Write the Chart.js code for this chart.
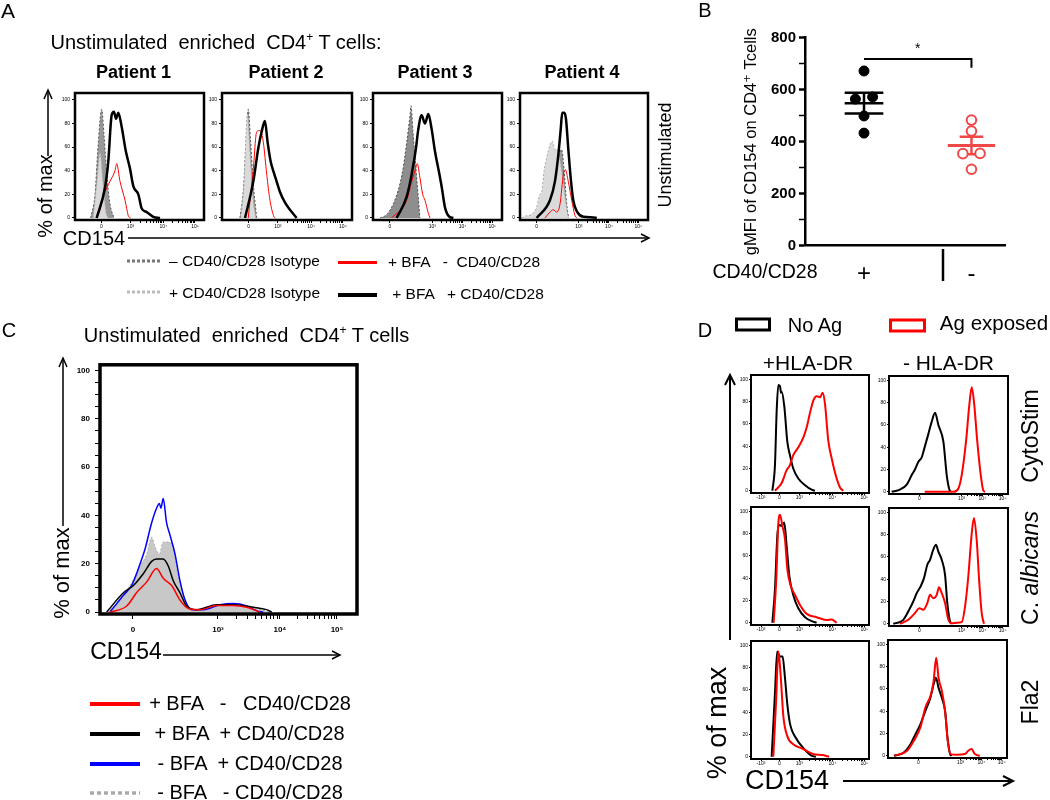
<!DOCTYPE html>
<html>
<head>
<meta charset="utf-8">
<script src="https://cdn.jsdelivr.net/npm/chart.js@4.4.1/dist/chart.umd.min.js"></script>
<style>
  body { margin: 0; background: #fff; }
  #fig { position: relative; width: 1050px; height: 800px; overflow: hidden;
         font-family: "Liberation Sans", Arial, "DejaVu Sans", sans-serif; color: #000; }
  canvas { position: absolute; z-index: 1; }
  .lbl { position: absolute; white-space: pre; line-height: 1; z-index: 3; }
  .lbl sup { font-size: 60%; line-height: 0; vertical-align: 0.7em; }
  #deco { position: absolute; left: 0; top: 0; z-index: 2; }
</style>
</head>
<body>
<div id="fig">
  <canvas id="a1"></canvas><canvas id="a2"></canvas><canvas id="a3"></canvas><canvas id="a4"></canvas>
  <canvas id="b"></canvas>
  <canvas id="c"></canvas>
  <canvas id="d1"></canvas><canvas id="d2"></canvas><canvas id="d3"></canvas>
  <canvas id="d4"></canvas><canvas id="d5"></canvas><canvas id="d6"></canvas>

  <svg id="deco" width="1050" height="800">
    <g stroke="#000" fill="none" stroke-width="1.5">
      <!-- A: axis arrows -->
      <line x1="48" y1="156" x2="48" y2="91"/><polyline points="44,99 48,90 52,99"/>
      <line x1="128" y1="238" x2="649" y2="238"/><polyline points="641,234 649,238 641,242"/>
      <!-- C: axis arrows -->
      <line x1="63" y1="526" x2="63" y2="359"/><polyline points="59,367 63,358 67,367"/>
      <line x1="163" y1="655" x2="340" y2="655"/><polyline points="332,651 340,655 332,659"/>
    </g>
    <g stroke="#000" fill="none" stroke-width="2">
      <!-- D: axis arrows -->
      <line x1="730" y1="640" x2="730" y2="376"/><polyline points="725,385 730,375 735,385"/>
      <line x1="843" y1="781" x2="1012" y2="781"/><polyline points="1003,776 1013,781 1003,786"/>
      <!-- B: separator -->
      <line x1="943" y1="249" x2="943" y2="281" stroke-width="2.5"/>
    </g>
    <!-- A legend swatches -->
    <line x1="127" y1="261" x2="162" y2="261" stroke="#777" stroke-width="3" stroke-dasharray="3 2"/>
    <line x1="127" y1="292" x2="162" y2="292" stroke="#bbb" stroke-width="3" stroke-dasharray="3 2"/>
    <line x1="338" y1="262.5" x2="377" y2="262.5" stroke="#ff0000" stroke-width="3"/>
    <line x1="338" y1="295" x2="377" y2="295" stroke="#000" stroke-width="4"/>
    <!-- C legend swatches -->
    <line x1="90" y1="704" x2="140" y2="704" stroke="#ff0000" stroke-width="4"/>
    <line x1="90" y1="734" x2="140" y2="734" stroke="#000" stroke-width="4"/>
    <line x1="90" y1="764" x2="140" y2="764" stroke="#0000ff" stroke-width="4"/>
    <line x1="90" y1="793" x2="140" y2="793" stroke="#aaa" stroke-width="3.5" stroke-dasharray="4 3"/>
    <!-- D legend boxes -->
    <rect x="736.5" y="319" width="33" height="11" fill="none" stroke="#000" stroke-width="3"/>
    <rect x="890.5" y="320" width="34" height="11" fill="none" stroke="#ff0000" stroke-width="3"/>
  </svg>
</div>

<script>
// ---- Panel A: histograms per patient, [x % of plot width, y % of max] ----
const p1Dark  = [[12.2,0],[15.5,20],[17.8,60],[20.7,92],[22.5,70],[24.8,35],[27.1,12],[30.2,0]];
const p1Light = [[14,0],[17,30],[19.4,55],[21.7,30],[24,5],[25.6,0]];
const p1Red   = [[16.8,0],[19.4,7],[21.9,18],[24.8,26],[27.1,31],[31,40],[32.3,46],[34.9,31],[38.8,15],[41.3,2],[43,0]];
const p1Black = [[16.8,0],[23.3,26],[25.8,48],[28.4,87],[30.2,90],[31.8,84],[33.6,89],[36.2,77],[39.5,56],[42.6,42],[45.2,27],[49.1,20],[51.7,8],[55.6,5],[60.7,1],[65.9,0]];

const p2Dark  = [[13.8,0],[16.5,25],[18.5,65],[20.2,92],[22,65],[24,30],[26.7,0]];
const p2Light = [[14.5,0],[17,30],[19.5,88],[21.5,55],[24,15],[26,0]];
const p2Red   = [[20.2,0],[24.1,42],[26.7,73],[29.2,74],[31.8,64],[34.4,37],[36.9,15],[40,1],[41,0]];
const p2Black = [[17.7,0],[24.1,31],[27.9,59],[30.5,73],[33,82],[35.1,64],[37.4,48],[40,38],[42,31],[44.6,22],[48.5,13],[52.3,7],[57.4,0]];

const p3Dark  = [[5.4,0],[11.6,4],[19.4,23],[23.3,42],[26.1,64],[28.7,87],[29.5,95],[31,73],[34.1,31],[36.4,0]];
const p3Light = [[7,0],[12,3],[19.4,20],[23.3,38],[26.1,60],[28.7,82],[29.5,88],[31,68],[34,28],[36,0]];
const p3Red   = [[14.5,0],[26.1,15],[30,31],[32.6,40],[34.3,46],[36.4,34],[38.5,20],[40.3,15],[42.9,4],[44.2,0]];
const p3Black = [[18.3,0],[26.1,18],[30,37],[33.3,59],[35.1,75],[37.7,87],[40.3,80],[42.9,88],[45.5,75],[48.1,56],[50.6,42],[53.3,26],[55.8,9],[59.2,1],[62.3,0]];

const p4Dark  = [[19,0],[24,15],[28,38],[31,55],[32.5,58],[34.5,40],[36.5,12],[38,0]];
const p4Light = [[1.3,0],[5.2,2],[9.1,3],[13,9],[15.6,20],[17,22],[18.8,40],[20.8,51],[23.4,62],[25.3,65],[27.3,58],[29.1,58],[31.3,48],[33.9,29],[35.9,12],[37.7,0]];
const p4Red   = [[19.5,0],[23.4,5],[26,7],[28.6,5],[31.3,12],[33.9,37],[35.4,41],[37.7,31],[40.4,15],[43,2],[44.8,0]];
const p4Black = [[13,0],[23.4,15],[27.3,31],[29.9,53],[31.8,75],[33,89],[34.6,89],[35.9,84],[37.7,59],[39.6,34],[41.6,15],[44.8,5],[49.5,1],[57.3,0.5],[60,0]];

// ---- Panel B: gMFI values ----
const bGroups = ['+', '-'];
const bPlus = [672, 564, 572, 499, 433];
const bPlusJitter = [0, -1, 1, 0, 0];
const bMinus = [483, 441, 354, 355, 294];
const bMinusJitter = [0, 0, -1, 1, 0];
const bBracket = [718, 684];
const bStarY = 755;

// ---- Panel C ----
const cGray  = [[2.6,0],[7.8,5],[11.7,11],[15.6,19],[18.2,24],[20.1,31],[21.4,27],[23.1,24],[24.6,29],[26.6,29],[28.5,27],[30.4,15],[32.4,7],[34.4,2],[37.6,1],[44,2.5],[49.3,3],[54.5,2.5],[62.3,1],[66.1,0]];
const cBlue  = [[3.9,0],[9.1,7],[12.3,11],[15.6,20],[17.5,26],[20.1,37],[22,43],[23.1,45],[23.7,43],[24.6,47],[25.9,37],[27.2,32],[29.2,24],[31.1,13],[33.1,5],[35.7,1],[40.2,1],[46.7,3],[51.9,3.5],[57.1,2.5],[61,0.5],[63.5,0]];
const cBlack = [[2.6,0],[9.1,8],[13,11],[16.9,16],[20.1,21],[22,22],[24.6,22],[26.6,19],[28.5,13],[31.1,8],[33.7,2.5],[37.6,1],[45.4,3],[51.9,3],[59.7,2],[64.8,1],[66.8,0]];
const cRed   = [[3.9,0],[10.4,2.5],[14.2,8],[18.2,12.5],[22,18],[24.6,14],[27.9,11],[31.1,5],[34.4,1.5],[38.9,1],[45.4,2.7],[51.9,2.7],[57.1,2],[61,0.5],[62,0]];

// ---- Panel D: rows CytoStim / C. albicans / Fla2, columns +HLA-DR / -HLA-DR ----
const d1LBlack = [[18.1,0],[20.3,23],[21.8,73],[23.2,95],[24.6,94],[25.4,88],[26,89],[28.2,76],[30.8,44],[33,32],[35.8,20],[40.1,11],[45.8,5],[51.4,1],[54.2,0]];
const d1LRed   = [[20.3,0],[26,7],[30.2,18.5],[33,23],[35.8,32],[40.1,39],[44.4,48],[47.2,57],[50,70],[52.8,81],[55.6,85],[58.5,84],[60.7,88],[62.7,78],[65.5,45],[68.4,29],[72.6,11],[75.4,3],[78.2,0]];
const d1RBlack = [[2.2,0],[9.2,2],[14.9,6.5],[19.1,15],[21.8,20],[24.7,27],[27.5,31],[29.7,39],[33.1,52],[35.9,63],[38.7,71],[41.5,60],[45.7,45],[48.5,15],[50.7,2],[51.8,0]];
const d1RRed   = [[30,0],[54.1,0],[58.3,3],[61.1,15],[64.7,45],[67.5,78],[69.5,94],[71.4,81],[74.2,45],[77.1,15],[79.3,1],[80.7,0]];
const d2LBlack = [[18.1,0],[20.3,30],[22.3,78],[23.7,88],[26,87],[28.2,90],[30.2,69],[32.5,42],[35.8,25],[40.1,13],[45.8,5],[51.4,1.5],[55.6,0]];
const d2LRed   = [[19.2,0],[21.4,39],[23.2,90],[24.6,97],[26.6,87],[28.8,75],[30.8,48],[33.6,33.5],[37.3,25],[41.5,16],[47.2,8],[55.6,5],[64,2.5],[68.4,3],[72.6,0]];
const d2RBlack = [[3.6,0],[12,3.5],[17.6,14],[20.4,20],[23.3,27.5],[26.6,33.6],[29.4,41],[32.2,53],[34.5,57.5],[37.2,66.5],[39.5,71],[41.4,65],[44.3,57.5],[47.1,44],[49,18.6],[51.3,2],[52.7,0]];
const d2RRed   = [[9.2,0],[16.2,3.6],[21.8,9.6],[25.5,14],[28.8,12.6],[32.2,18.6],[34.5,26],[37.2,23],[40.1,26],[42,32.7],[44.3,27.6],[47.1,18.6],[49.9,3.6],[52.7,0.5],[56.9,1],[61.1,1.5],[63.9,15.5],[66.6,42],[69.5,81],[71.4,95],[73.7,75],[75.9,36.5],[77.9,9.6],[79.8,0]];
const d3LBlack = [[17.5,0],[20.3,57],[22.2,94.6],[24.5,90],[26.8,90],[28.7,72],[30.7,48],[33,30],[38.6,16],[44.2,8],[51.2,1],[55,0]];
const d3LRed   = [[18.9,0],[21.2,48.6],[23.2,94.6],[25.2,72],[27.4,36.6],[30.7,18.8],[35.8,11.3],[44.2,7],[52.6,2.5],[61,1.5],[66.2,0]];
const d3RBlack = [[5,0],[13.3,3],[18.9,10.4],[23.1,19.4],[27.2,28.3],[31.4,40.3],[35.6,52],[38.3,64],[40.3,70],[42.5,61],[45.3,52],[48,40],[50,16.4],[52.2,1.5],[53.6,0]];
const d3RRed   = [[5.4,0],[16.1,4.5],[21.7,13.4],[27.2,25.4],[31.4,43.3],[36.1,55],[38.3,67],[40.5,88],[42.5,70],[45.3,58],[48,40],[50.2,13.4],[52.7,1.5],[57.7,1],[64.6,1.5],[67.4,4.5],[70.2,6],[73,1.5],[77.2,0]];

// ---- tick labels (logicle axis positions in % of plot width) ----
const yTickVals = [0, 20, 40, 60, 80, 100];
const aTicks12 = { pos: [20.5, 43, 68.5, 93], lab: ['0', '10³', '10⁴', '10⁵'] };
const aTicks34 = { pos: [13, 46, 69.5, 92.5], lab: ['0', '10³', '10⁴', '10⁵'] };
const cTicks   = { pos: [12.8, 45.9, 70, 92.2], lab: ['0', '10³', '10⁴', '10⁵'] };
const dTicksL  = { pos: [8.5, 24, 41, 69, 96], lab: ['-10³', '0', '10³', '10⁴', '10⁵'] };
const dTicksR  = { pos: [25.5, 61, 78.4, 95.5], lab: ['0', '10³', '10⁴', '10⁵'] };

Chart.defaults.font.family = '"Liberation Sans", Arial, "DejaVu Sans", sans-serif';
Chart.defaults.color = '#000';

// frame around the plot area
Chart.register({
  id: 'frame',
  afterDatasetsDraw(chart, args, opts) {
    if (!opts.width) return;
    const a = chart.chartArea, ctx = chart.ctx;
    ctx.save();
    ctx.lineWidth = opts.width;
    ctx.strokeStyle = '#000';
    ctx.strokeRect(a.left, a.top, a.right - a.left, a.bottom - a.top);
    ctx.restore();
  }
});

// major ticks + log minor ticks between decades
function buildTicks(t) {
  const ticks = t.pos.map((v, i) => ({ value: v, label: t.lab[i] }));
  for (let i = 0; i < t.pos.length - 1; i++) {
    if (t.lab[i].startsWith('10') && t.lab[i + 1].startsWith('10')) {
      for (let m = 2; m < 10; m++) {
        ticks.push({ value: t.pos[i] + (t.pos[i + 1] - t.pos[i]) * Math.log10(m), label: '' });
      }
    }
  }
  return ticks;
}

function histogram(id, box, cfg, xt, curves) {
  const [bx, by, bw, bh] = box;
  const cv = document.getElementById(id);
  const W = bw + cfg.yw + 3, H = bh + 2 + cfg.xh;
  cv.width = W; cv.height = H;
  cv.style.width = W + 'px'; cv.style.height = H + 'px';
  cv.style.left = (bx - cfg.yw) + 'px';
  cv.style.top = (by - 2) + 'px';

  const xticks = buildTicks(xt);
  let yticks = yTickVals.slice();
  if (cfg.yMinor) for (let v = 5; v < 100; v += 5) if (v % 20) yticks.push(v);

  new Chart(cv, {
    type: 'line',
    data: {
      datasets: curves.map(c => ({
        data: c.pts.map(p => ({ x: p[0], y: p[1] })),
        borderColor: c.color,
        borderWidth: c.lw,
        borderDash: c.dash || [],
        fill: c.fill ? 'origin' : false,
        backgroundColor: c.fill || 'transparent',
        pointRadius: 0,
        cubicInterpolationMode: 'monotone',
        order: c.order
      }))
    },
    options: {
      responsive: false,
      animation: false,
      devicePixelRatio: 1,
      layout: { padding: { top: 2, right: 3, left: 0, bottom: 0 } },
      plugins: { legend: { display: false }, tooltip: { enabled: false }, frame: { width: cfg.frame } },
      scales: {
        x: {
          type: 'linear', min: 0, max: 100,
          afterBuildTicks: s => { s.ticks = xticks.map(t => ({ value: t.value })); },
          afterFit: s => { s.height = cfg.xh; },
          ticks: {
            autoSkip: false, maxRotation: 0, padding: cfg.xPad,
            font: { size: cfg.tf, weight: cfg.tw },
            callback: (v, i) => xticks[i].label
          },
          grid: { drawOnChartArea: false, tickLength: cfg.tl, color: '#000' },
          border: { display: false }
        },
        y: {
          type: 'linear', min: cfg.yMin, max: cfg.yMax,
          afterBuildTicks: s => { s.ticks = yticks.map(v => ({ value: v })); },
          afterFit: s => { s.width = cfg.yw; },
          ticks: {
            autoSkip: false, padding: cfg.yPad,
            font: { size: cfg.tf, weight: cfg.tw },
            callback: v => (v % 20 === 0 ? String(v) : '')
          },
          grid: { drawOnChartArea: false, tickLength: cfg.tl, color: '#000' },
          border: { display: false }
        }
      }
    }
  });
}

// ---- Panel A ----
const aCfg = { yw: 16, xh: 12, tf: 5, tw: 'normal', tl: 3, yPad: 2, xPad: 1, yMin: -1.7, yMax: 105.8, frame: 2.5 };
function patient(black, red, light, dark, lightUnder) {
  return [
    { pts: black, color: '#000', lw: 2.5, order: 0 },
    { pts: red, color: '#ff0000', lw: 1, order: 1 },
    { pts: light, color: '#aaa', lw: 1, dash: [2, 2], fill: 'rgb(218,218,218)', order: lightUnder ? 4 : 2 },
    { pts: dark, color: '#555', lw: 1, dash: [2, 2], fill: 'rgba(110,110,110,0.7)', order: 3 }
  ];
}
histogram('a1', [75, 90, 129, 130], aCfg, aTicks12, patient(p1Black, p1Red, p1Light, p1Dark, false));
histogram('a2', [222, 90, 130, 130], aCfg, aTicks12, patient(p2Black, p2Red, p2Light, p2Dark, false));
histogram('a3', [373, 90, 129, 130], aCfg, aTicks34, patient(p3Black, p3Red, p3Light, p3Dark, true));
histogram('a4', [520, 90, 128, 130], aCfg, aTicks34, patient(p4Black, p4Red, p4Light, p4Dark, false));

// ---- Panel C ----
const cCfg = { yw: 30, xh: 24, tf: 8, tw: 'bold', tl: 5, yPad: 5, xPad: 6, yMin: -0.8, yMax: 102.4, frame: 3.5, yMinor: true };
histogram('c', [100, 357, 257, 257], cCfg, cTicks, [
  { pts: cRed, color: '#ff0000', lw: 1.5, order: 0 },
  { pts: cBlack, color: '#000', lw: 1.5, order: 1 },
  { pts: cBlue, color: '#0000ff', lw: 1.5, order: 2 },
  { pts: cGray, color: '#aaa', lw: 1, dash: [2, 2], fill: 'rgb(200,200,200)', order: 4 }
]);

// ---- Panel D ----
const dCfg = { yw: 14, xh: 10, tf: 5, tw: 'normal', tl: 2, yPad: 1, xPad: 0, yMin: -2, yMax: 104, frame: 2 };
function pair(black, red) {
  return [
    { pts: red, color: '#ff0000', lw: 2, order: 0 },
    { pts: black, color: '#000', lw: 2, order: 1 }
  ];
}
histogram('d1', [751, 373, 118, 120], dCfg, dTicksL, pair(d1LBlack, d1LRed));
histogram('d2', [889, 374, 119, 120], dCfg, dTicksR, pair(d1RBlack, d1RRed));
histogram('d3', [751, 505, 118, 120], dCfg, dTicksL, pair(d2LBlack, d2LRed));
histogram('d4', [889, 506, 119, 120], dCfg, dTicksR, pair(d2RBlack, d2RRed));
histogram('d5', [751, 639, 118, 120], dCfg, dTicksL, pair(d3LBlack, d3LRed));
histogram('d6', [888, 638, 119, 120], dCfg, dTicksR, pair(d3RBlack, d3RRed));

// ---- Panel B ----
function meanSem(a) {
  const m = a.reduce((s, v) => s + v, 0) / a.length;
  const sd = Math.sqrt(a.reduce((s, v) => s + (v - m) ** 2, 0) / (a.length - 1));
  return [m, sd / Math.sqrt(a.length)];
}
function seg(pts, color, w) {
  return { data: pts.map(p => ({ x: p[0], y: p[1] })), showLine: true, borderColor: color,
           borderWidth: w, pointRadius: 0, order: 2 };
}
const bRed = '#f04848';
const [mP, sP] = meanSem(bPlus);
const [mM, sM] = meanSem(bMinus);
const jit = 0.08;
const bCanvas = document.getElementById('b');
bCanvas.width = 290; bCanvas.height = 275;
Object.assign(bCanvas.style, { left: '730px', top: '20px', width: '290px', height: '275px' });

new Chart(bCanvas, {
  type: 'scatter',
  data: {
    datasets: [
      { data: bPlus.map((v, i) => ({ x: 0 + bPlusJitter[i] * jit, y: v })), pointRadius: 5,
        pointBackgroundColor: '#000', pointBorderColor: '#000', order: 0 },
      { data: bMinus.map((v, i) => ({ x: 1 + bMinusJitter[i] * jit, y: v })), pointRadius: 4.8,
        pointBackgroundColor: '#fff', pointBorderColor: bRed, pointBorderWidth: 2, order: 0 },
      seg([[-0.18, mP], [0.18, mP]], '#000', 2.5),
      seg([[-0.18, mP + sP], [0.18, mP + sP]], '#000', 2.5),
      seg([[-0.18, mP - sP], [0.18, mP - sP]], '#000', 2.5),
      seg([[0, mP - sP], [0, mP + sP]], '#000', 2.5),
      seg([[0.78, mM], [1.22, mM]], bRed, 3),
      seg([[0.89, mM + sM], [1.11, mM + sM]], bRed, 2.5),
      seg([[0.89, mM - sM], [1.11, mM - sM]], bRed, 2.5),
      seg([[1, mM - sM], [1, mM + sM]], bRed, 2.5),
      seg([[0, bBracket[0]], [1, bBracket[0]], [1, bBracket[1]]], '#000', 2)
    ]
  },
  options: {
    responsive: false,
    animation: false,
    devicePixelRatio: 1,
    layout: { padding: { top: 17.7, right: 15, left: 0, bottom: 0 } },
    plugins: { legend: { display: false }, tooltip: { enabled: false } },
    scales: {
      x: {
        type: 'linear', min: -0.549, max: 1.312,
        afterBuildTicks: s => { s.ticks = bGroups.map((g, i) => ({ value: i })); },
        afterFit: s => { s.height = 49.3; },
        ticks: { autoSkip: false, maxRotation: 0, padding: 14, font: { size: 24 },
                 callback: (v, i) => bGroups[i] },
        grid: { display: false, drawTicks: false },
        border: { display: true, width: 2.5, color: '#000' }
      },
      y: {
        min: 0, max: 800,
        afterFit: s => { s.width = 75; },
        ticks: { stepSize: 50, padding: 3, font: { size: 15, weight: 'bold' },
                 callback: v => (v % 200 === 0 ? String(v) : '') },
        grid: { drawOnChartArea: false, tickLength: 6, color: '#000',
                tickWidth: c => (c.tick && c.tick.value % 200 === 0 ? 2.5 : 1.5) },
        border: { display: true, width: 2.5, color: '#000' },
        title: { display: true, text: 'gMFI of CD154 on CD4⁺ Tcells', font: { size: 16.5 },
                 padding: { top: 12, bottom: 0 } }
      }
    }
  },
  plugins: [{
    id: 'star',
    afterDatasetsDraw(chart) {
      const ctx = chart.ctx;
      ctx.save();
      ctx.fillStyle = '#000';
      ctx.font = '14px "Liberation Sans", Arial, sans-serif';
      ctx.textAlign = 'center';
      ctx.textBaseline = 'middle';
      ctx.fillText('*', chart.scales.x.getPixelForValue(0.5), chart.scales.y.getPixelForValue(bStarY));
      ctx.restore();
    }
  }]
});

// ---- text labels ----
const fig = document.getElementById('fig');
function label(html, cx, cy, size, opt) {
  opt = opt || {};
  const d = document.createElement('div');
  d.className = 'lbl';
  d.innerHTML = html;
  d.style.left = cx + 'px';
  d.style.top = cy + 'px';
  d.style.fontSize = size + 'px';
  if (opt.bold) d.style.fontWeight = 'bold';
  d.style.transform = 'translate(-50%,-50%)' + (opt.rot ? ' rotate(-90deg)' : '');
  fig.appendChild(d);
}

// A
label('A', 8, 10, 21);
label('Unstimulated  enriched  CD4<sup>+</sup> T cells:', 216, 42, 20);
label('Patient 1', 133.5, 72, 18, { bold: true });
label('Patient 2', 286, 72, 18, { bold: true });
label('Patient 3', 435, 72, 18, { bold: true });
label('Patient 4', 582, 72, 18, { bold: true });
label('Unstimulated', 665, 155, 18, { rot: true });
label('% of max', 45, 196, 20, { rot: true });
label('CD154', 94, 238, 20);
label('– CD40/CD28 Isotype', 244.5, 261, 15.5);
label('+ CD40/CD28 Isotype', 244.5, 293, 15.5);
label('+ BFA   -  CD40/CD28', 464, 262, 15.5);
label('+ BFA   + CD40/CD28', 468, 294, 15.5);

// B
label('B', 705, 10, 20);
label('CD40/CD28', 765, 272, 19.5);

// C
label('C', 9, 330, 20);
label('Unstimulated  enriched  CD4<sup>+</sup> T cells', 246.5, 335, 20);
label('% of max', 62, 573, 22, { rot: true });
label('CD154', 126, 651, 23);
label('+ BFA   -   CD40/CD28', 250, 703, 20);
label('+ BFA  + CD40/CD28', 249.5, 733, 20);
label('- BFA  + CD40/CD28', 250, 763, 20);
label('- BFA   - CD40/CD28', 250, 792, 20);

// D
label('D', 705, 330, 20);
label('No Ag', 815, 325, 20);
label('Ag exposed', 994, 323, 20.5);
label('+HLA-DR', 808, 362, 21);
label('- HLA-DR', 948.5, 362, 21);
label('CytoStim', 1030, 435.5, 23, { rot: true });
label('C. <i>albicans</i>', 1030, 567.5, 23, { rot: true });
label('Fla2', 1030, 701.5, 23, { rot: true });
label('% of max', 717, 723, 27, { rot: true });
label('CD154', 787, 780, 27);
</script>
</body>
</html>
